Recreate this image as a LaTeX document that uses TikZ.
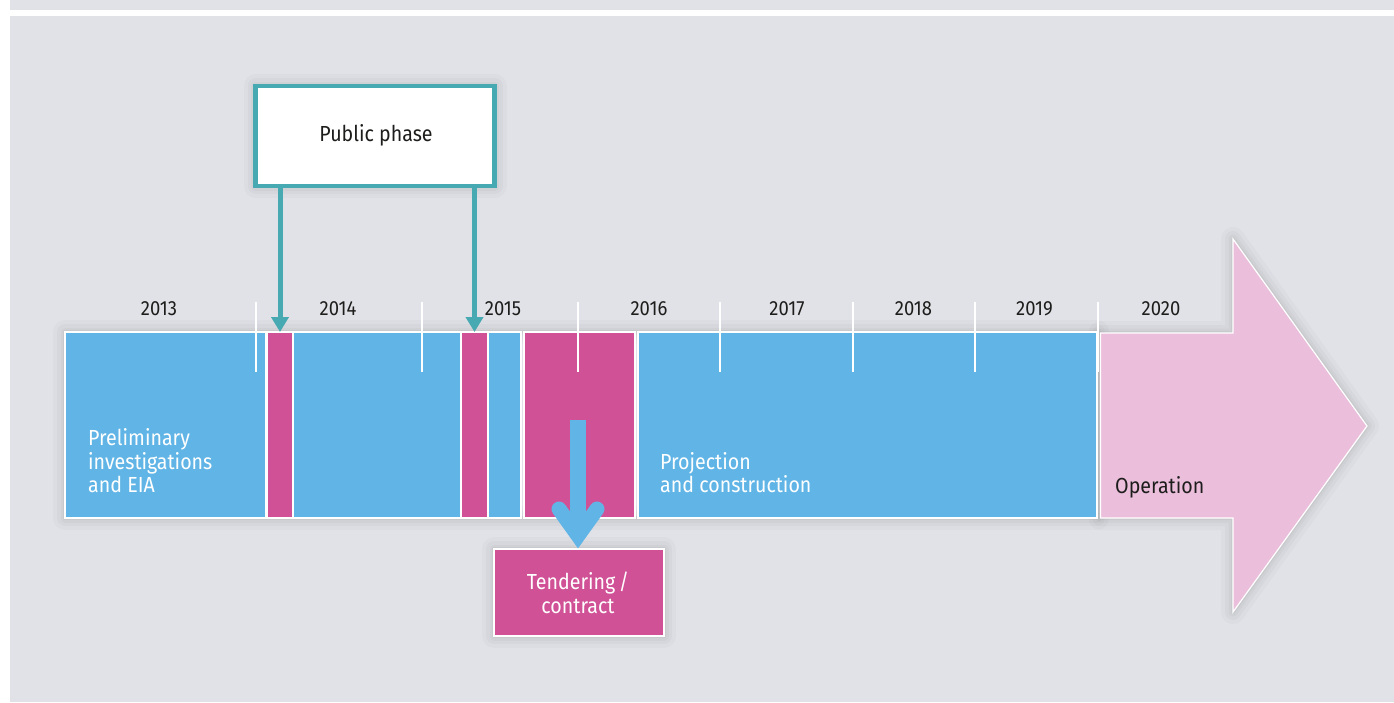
\documentclass[tikz,border=0pt]{standalone}
\usepackage{fontspec}
\setmainfont{Fira Sans}[FakeStretch=0.9]
\usetikzlibrary{arrows.meta,calc}
\definecolor{bggray}{HTML}{E1E2E7}
\definecolor{barblue}{HTML}{61B5E6}
\definecolor{barmag}{HTML}{D05196}
\definecolor{oppink}{HTML}{EBBEDC}
\definecolor{tealc}{HTML}{47A9B1}
\definecolor{ink}{HTML}{1D1D1B}
\begin{document}
\begin{tikzpicture}[x=1pt,y=-1pt,
  shadowline/.style={draw=black,line join=round},
  barbox/.style={draw=white,line width=1.2pt,inner sep=0pt,outer sep=0pt,minimum height=186pt,anchor=north west},
  yearlbl/.style={anchor=base,text=ink,inner sep=0pt,font=\fontsize{20.5}{20.5}\selectfont},
  bodylbl/.style={anchor=base west,inner sep=0pt,font=\fontsize{21.8}{24}\selectfont},
  boxlbl/.style={anchor=base,inner sep=0pt,font=\fontsize{21.8}{24}\selectfont},
  tick/.style={draw=white,line width=1.5pt},
  tealarrow/.style={draw=tealc,line width=5pt,-{Triangle[width=17pt,length=15pt,fill=tealc]}}
]
\useasboundingbox (0,0) rectangle (1394,702);
\fill[white] (0,0) rectangle (1394,702);
\fill[bggray] (10,0) rectangle (1394,9.5);
\fill[bggray] (10,16) rectangle (1394,702);

% soft shadows
\foreach \w/\o in {24/0.018,16/0.022,9/0.028,4/0.035}{
  \draw[shadowline,draw opacity=\o,line width=\w pt] (65,332) rectangle (1097,518);
  \draw[shadowline,draw opacity=\o,line width=\w pt] (1100.5,333) -- (1233,333) -- (1233,239) -- (1367,426) -- (1233,612) -- (1233,518) -- (1100.5,518) -- cycle;
  \draw[shadowline,draw opacity=\o,line width=\w pt] (255.5,86) rectangle (494.5,186);
  \draw[shadowline,draw opacity=\o,line width=\w pt] (494,549) rectangle (664,636);
}

% timeline bars
\node[barbox,fill=barblue,minimum width=201pt] (b1) at (65,332) {};
\node[barbox,fill=barmag,minimum width=26pt] (m1) at (267,332) {};
\node[barbox,fill=barblue,minimum width=168pt] (b2) at (293,332) {};
\node[barbox,fill=barmag,minimum width=27pt] (m2) at (461,332) {};
\node[barbox,fill=barblue,minimum width=33pt] (b3) at (488,332) {};
\node[barbox,fill=barmag,minimum width=111pt] (m3) at (524,332) {};
\node[barbox,fill=barblue,minimum width=459pt] (b4) at (638,332) {};

% operation arrow
\draw[fill=oppink,draw=white,line width=1.2pt] (1100.5,333) -- (1233,333) -- (1233,239) -- (1367,426) -- (1233,612) -- (1233,518) -- (1100.5,518) -- cycle;

% ticks
\foreach \x in {256,422,578,720,853,975,1098}{
  \draw[tick] (\x,302) -- (\x,372);
}

% years
\node[yearlbl] (y13) at (159,315) {2013};
\node[yearlbl] (y14) at (338,315) {2014};
\node[yearlbl] (y15) at (503,315) {2015};
\node[yearlbl] (y16) at (649,315) {2016};
\node[yearlbl] (y17) at (787,315) {2017};
\node[yearlbl] (y18) at (913.5,315) {2018};
\node[yearlbl] (y19) at (1034.5,315) {2019};
\node[yearlbl] (y20) at (1161,315) {2020};

% public phase box
\node[draw=tealc,line width=4.5pt,fill=white,minimum width=239pt,minimum height=100pt,inner sep=0pt] (pp) at (375,136) {};
\node[boxlbl,text=ink] (pptext) at (376,141) {Public phase};
\draw[tealarrow] (pp.south -| m1.north) -- (m1.north);
\draw[tealarrow] (pp.south -| m2.north) -- (m2.north);

% tendering box
\node[draw=white,line width=1.2pt,fill=barmag,minimum width=170pt,minimum height=87pt,inner sep=0pt] (tb) at (579,592.5) {};
\node[boxlbl,text=white] (tbt1) at (578,589.3) {Tendering\,/};
\node[boxlbl,text=white] (tbt2) at (578,613.3) {contract};

% blue arrow
\coordinate (ta) at (578,420);
\coordinate (tip) at (578,548);
\draw[barblue,line width=16pt] (ta) -- ($(tip)+(0,-14)$);
\draw[barblue,line width=15pt,line cap=round,line join=miter,miter limit=10]
  ($(tip)+(-19,-39)$) -- ($(tip)+(0,-12.5)$) -- ($(tip)+(19,-39)$);

% labels
\node[bodylbl,text=white] (l1a) at (88,445.5) {Preliminary};
\node[bodylbl,text=white] (l1b) at (88,469) {investigations};
\node[bodylbl,text=white] (l1c) at (88,492.5) {and EIA};
\node[bodylbl,text=white] (l2a) at (660,469) {Projection};
\node[bodylbl,text=white] (l2b) at (660,492.5) {and construction};
\node[bodylbl,text=ink] (l3) at (1115,493) {Operation};
\end{tikzpicture}
\end{document}
